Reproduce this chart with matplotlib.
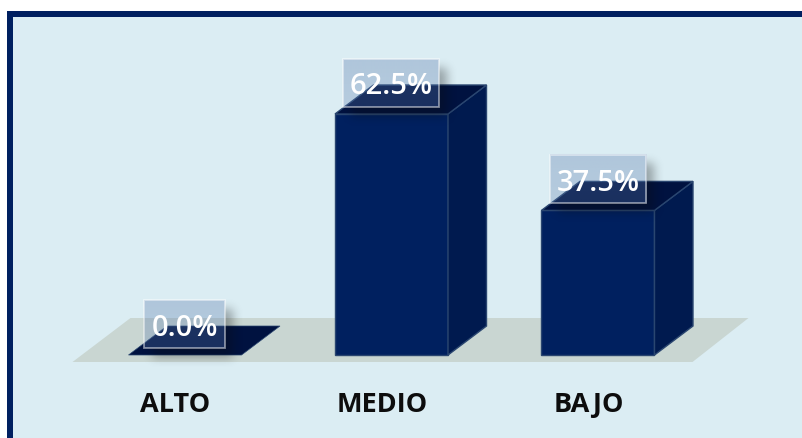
import matplotlib
matplotlib.use("Agg")
import matplotlib.pyplot as plt
from matplotlib.patches import Polygon, Rectangle
import numpy as np

categories = ["ALTO", "MEDIO", "BAJO"]
values = [0.0, 62.5, 37.5]

W, H = 803, 438
x0_px, step_px = 185.0, 206.5   # centre of first bar, spacing
y0_px, per_unit = 355.0, 3.856  # baseline, pixels per percent

navy_front = "#00205f"
navy_side = "#001a4f"
navy_top = "#001240"
edge = "#2a4670"
floor_col = "#c9d6d2"
bg_col = "#dbedf3"
frame_col = "#002060"

plt.rcParams['font.family'] = ['Open Sans', 'DejaVu Sans']

fig = plt.figure(figsize=(W / 100, H / 100), dpi=100, facecolor="white")
ax = fig.add_axes([0, 0, 1, 1])
ax.axis("off")


def dx(px):
    return px / step_px


def dy(px):
    return px / per_unit


def soft_shadow(cx, by, bw, bh, sigma=5.0, pad=20, off_x=8, off_y=9):
    # blurred rectangle, worked out in pixels and placed in data coords
    wpx, hpx = int(bw * step_px), int(bh * per_unit)
    arr = np.zeros((hpx + 2 * pad, wpx + 2 * pad))
    arr[pad:pad + hpx, pad:pad + wpx] = 1.0
    n = np.arange(-12, 13)
    kernel = np.exp(-n**2 / (2 * sigma**2))
    kernel /= kernel.sum()
    arr = np.apply_along_axis(lambda m: np.convolve(m, kernel, mode="same"), 0, arr)
    arr = np.apply_along_axis(lambda m: np.convolve(m, kernel, mode="same"), 1, arr)
    # the box itself is see-through, but no shadow shows behind it
    arr[pad - off_y:pad - off_y + hpx, pad - off_x:pad - off_x + wpx] = 0
    rgba = np.zeros(arr.shape + (4,))
    rgba[..., :3] = 0.05
    rgba[..., 3] = arr * 0.33
    ox, oy = dx(off_x), dy(-off_y)
    ax.imshow(rgba, aspect="auto", interpolation="nearest", zorder=3.5,
              extent=(cx - bw / 2 + ox - dx(pad), cx - bw / 2 + ox + dx(wpx + pad),
                      by + bh + oy - dy(hpx + pad), by + bh + oy + dy(pad)))


# panel and frame
ax.add_patch(Rectangle((7 / W, 0), 1, 1 - 11 / H, transform=ax.transAxes, fc=frame_col, ec="none", zorder=0))
ax.add_patch(Rectangle((13 / W, 0), 1, 1 - 17 / H, transform=ax.transAxes, fc=bg_col, ec="none", zorder=0.1))

# floor
half = dx(56.5)
depth_x, depth_y = dx(38.5), dy(29)
left = 0 - half - dx(56)
right = len(categories) - 1 + half + dx(38)
ax.add_patch(Polygon([(left, dy(-7)), (right, dy(-7)), (right + dx(56), dy(37)), (left + dx(58), dy(37))],
                     fc=floor_col, ec="none", zorder=1))

for i, v in enumerate(values):
    l, r = i - half, i + half
    top_poly = [(l, v), (r, v), (r + depth_x, v + depth_y), (l + depth_x, v + depth_y)]
    side_poly = [(r, 0), (r + depth_x, depth_y), (r + depth_x, v + depth_y), (r, v)]
    if v > 0:
        ax.add_patch(Rectangle((l, 0), r - l, v, fc=navy_front, ec=edge, lw=1, zorder=3))
        ax.add_patch(Polygon(side_poly, fc=navy_side, ec=edge, lw=1, zorder=3))
    ax.add_patch(Polygon(top_poly, fc=navy_top, ec=edge, lw=1 if v > 0 else 0.5, zorder=3))

    txt = f"{v:.1f}%"
    bw = dx(96) if v > 0 else dx(81)
    by = v + dy(7)
    bh = dy(48)
    soft_shadow(i, by, bw, bh)

    # label box, slightly stronger towards the top
    grad = np.zeros((48, 2, 4))
    grad[..., :3] = matplotlib.colors.to_rgb("#5a7aac")
    grad[..., 3] = np.linspace(0.34, 0.29, 48)[:, None]
    ax.imshow(grad, aspect="auto", zorder=4, extent=(i - bw / 2, i + bw / 2, by, by + bh))
    ax.add_patch(Rectangle((i - bw / 2, by), bw, bh, fc="none", ec="white", alpha=0.5, lw=1.3, zorder=4.2))
    ax.text(i, by + bh / 2 - dy(4), txt, color="white", fontsize=21, fontweight="semibold",
            ha="center", va="center", zorder=5)

    ax.text(i - dx(9.5), dy(-50), categories[i], color="#0d0d0d", fontsize=19.5,
            fontweight="bold", ha="center", va="center", zorder=5)

ax.set_xlim((0 - x0_px) / step_px, (W - x0_px) / step_px)
ax.set_ylim(-(H - y0_px) / per_unit, y0_px / per_unit)

fig.savefig("out.png", dpi=100, facecolor="white")
